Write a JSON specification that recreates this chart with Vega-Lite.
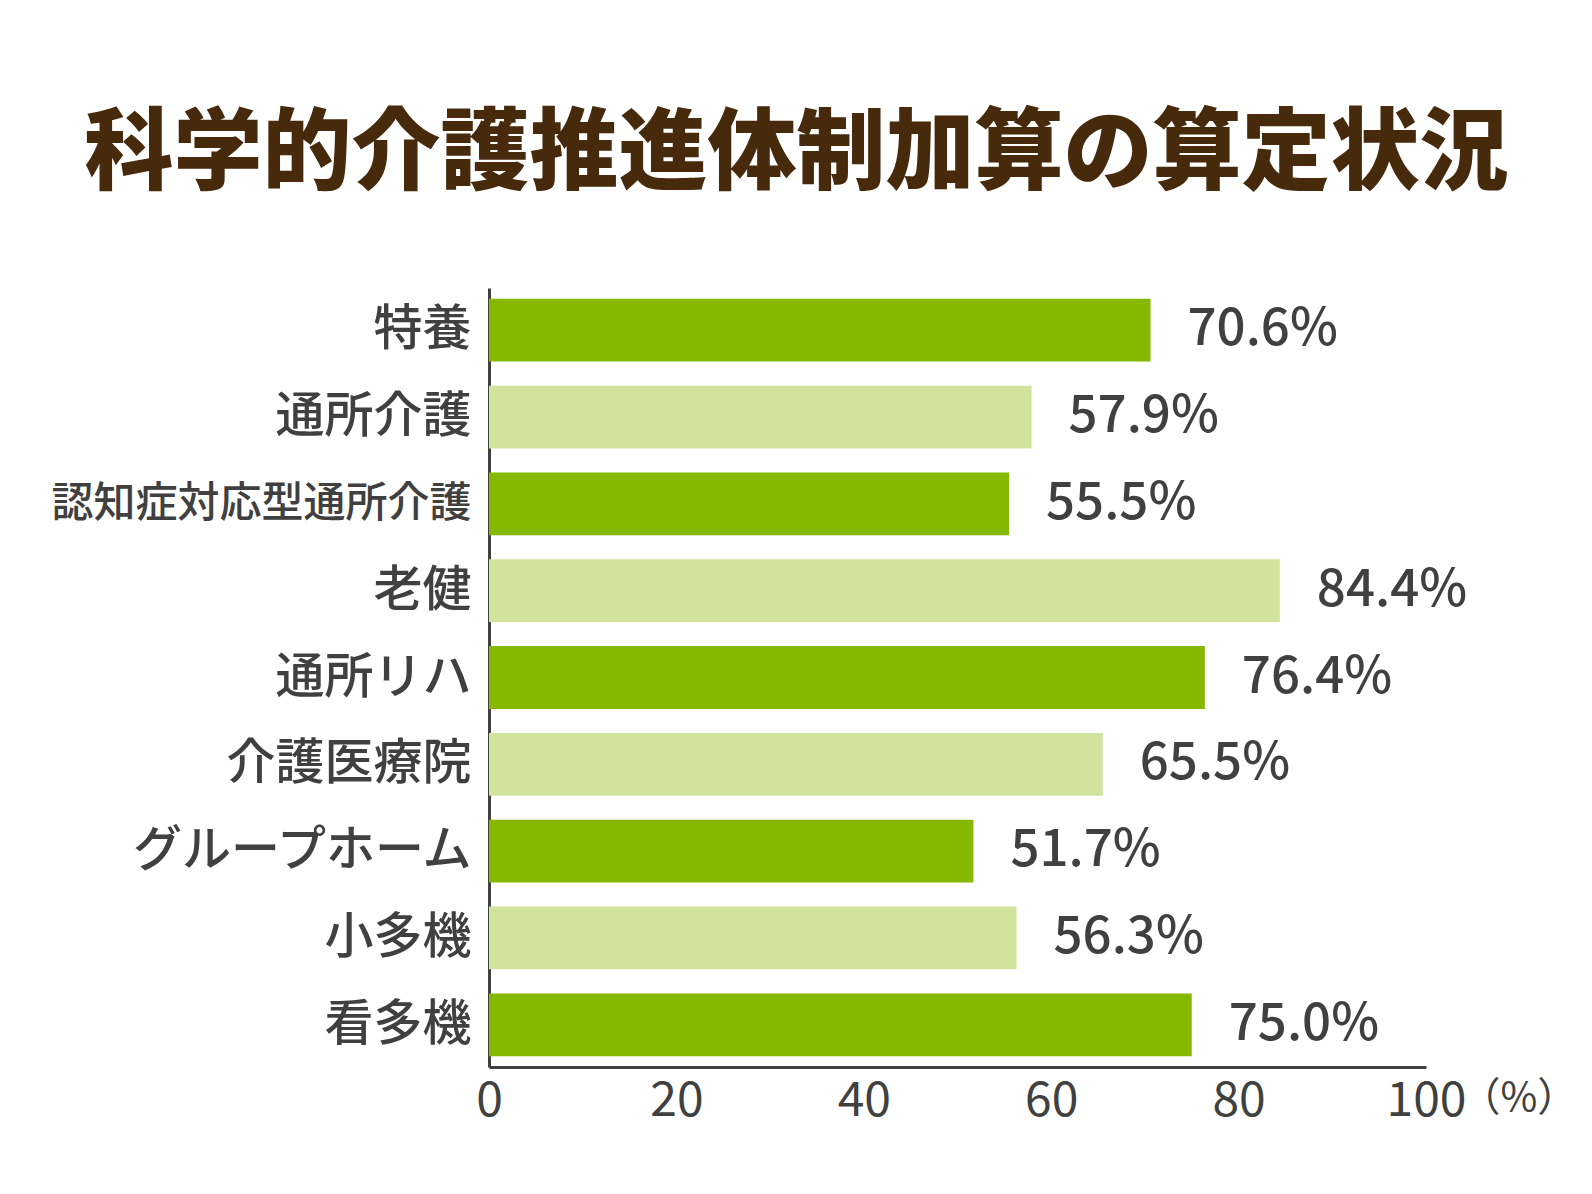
{
  "$schema": "https://vega.github.io/schema/vega-lite/v6.json",
  "autosize": {"type": "none"},
  "width": 937,
  "height": 779,
  "padding": {"left": 489, "top": 288, "right": 166, "bottom": 127},
  "background": "white",
  "title": {
    "text": "科学的介護推進体制加算の算定状況",
    "font": "Noto Sans CJK JP",
    "fontSize": 89,
    "fontWeight": 900,
    "color": "#47290c",
    "anchor": "middle",
    "baseline": "alphabetic",
    "offset": 17,
    "dx": -161
  },
  "data": {
    "values": [
      {"service": "特養", "rate": 70.6},
      {"service": "通所介護", "rate": 57.9},
      {"service": "認知症対応型通所介護", "rate": 55.5},
      {"service": "老健", "rate": 84.4},
      {"service": "通所リハ", "rate": 76.4},
      {"service": "介護医療院", "rate": 65.5},
      {"service": "グループホーム", "rate": 51.7},
      {"service": "小多機", "rate": 56.3},
      {"service": "看多機", "rate": 75.0}
    ]
  },
  "encoding": {
    "y": {
      "field": "service",
      "type": "nominal",
      "sort": null,
      "title": null,
      "scale": {"paddingInner": 0.277, "paddingOuter": 0.125},
      "axis": {
        "ticks": false,
        "domainColor": "#404040",
        "domainWidth": 3,
        "labelFont": "Noto Sans CJK JP",
        "labelFontWeight": 500,
        "labelFontSize": {"condition": {"test": "length(datum.label) > 8", "value": 42}, "value": 49},
        "labelColor": "#404040",
        "labelPadding": 18,
        "labelLimit": 500
      }
    },
    "x": {
      "field": "rate",
      "type": "quantitative",
      "scale": {"domain": [0, 100], "nice": false},
      "title": "（%）",
      "axis": {
        "values": [0, 20, 40, 60, 80, 100],
        "ticks": false,
        "grid": false,
        "domainColor": "#404040",
        "domainWidth": 3,
        "labelFont": "Noto Sans CJK JP",
        "labelFontWeight": "normal",
        "labelFontSize": 48,
        "labelColor": "#404040",
        "labelPadding": 10,
        "labelFlush": false,
        "titleFont": "Noto Sans CJK JP",
        "titleFontSize": 40,
        "titleFontWeight": "normal",
        "titleColor": "#404040",
        "titleAlign": "left",
        "titleAnchor": null,
        "titleBaseline": "alphabetic",
        "titleX": 971,
        "titleY": 43
      }
    }
  },
  "layer": [
    {
      "mark": {"type": "bar"},
      "encoding": {
        "color": {
          "field": "service",
          "type": "nominal",
          "legend": null,
          "scale": {
            "domain": ["特養", "通所介護", "認知症対応型通所介護", "老健", "通所リハ", "介護医療院", "グループホーム", "小多機", "看多機"],
            "range": ["#86b800", "#d1e39d", "#86b800", "#d1e39d", "#86b800", "#d1e39d", "#86b800", "#d1e39d", "#86b800"]
          }
        }
      }
    },
    {
      "transform": [{"calculate": "format(datum.rate, '.1f') + '%'", "as": "label"}],
      "mark": {
        "type": "text",
        "align": "left",
        "baseline": "middle",
        "dx": 37,
        "font": "Noto Sans CJK JP",
        "fontSize": 51,
        "fontWeight": 500,
        "color": "#404040"
      },
      "encoding": {"text": {"field": "label"}}
    }
  ],
  "config": {"view": {"stroke": null}}
}
